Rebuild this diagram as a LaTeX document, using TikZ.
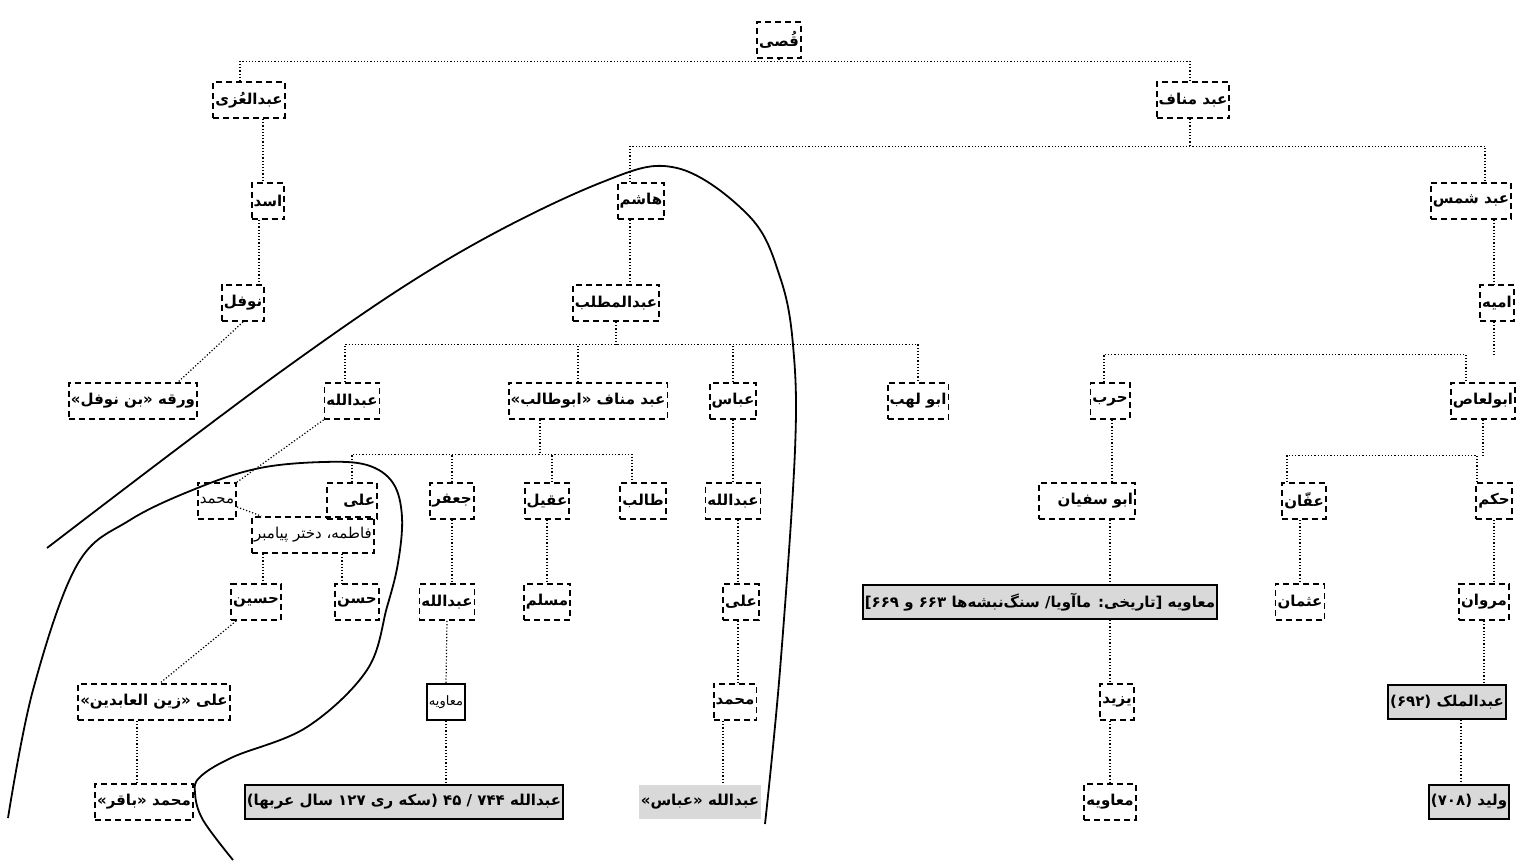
\documentclass[tikz,border=0pt]{standalone}
\usepackage{fontspec}
\usepackage{tikz}
\TeXXeTstate=1
\newfontfamily\fafont[Script=Arabic]{DejaVu Sans}
\definecolor{shade}{RGB}{217,217,217}
\newcommand{\rtl}[1]{\beginR#1\endR}
\tikzset{
  kin/.style={draw,dash pattern=on 3pt off 2pt,line width=0.9pt,font=\fafont\bfseries\fontsize{7.5}{9}\selectfont,minimum height=18pt,inner xsep=1pt,inner ysep=1pt},
  kinlight/.style={kin,font=\fafont\fontsize{7.5}{9}\selectfont},
  coin/.style={draw,solid,line width=0.9pt,fill=shade,font=\fafont\bfseries\fontsize{7.5}{9}\selectfont,minimum height=17pt,inner xsep=1pt,inner ysep=1pt},
  plainbox/.style={draw,solid,line width=0.7pt,font=\fafont\fontsize{6.5}{8}\selectfont,minimum height=18pt,inner xsep=1pt,inner ysep=1pt},
  link/.style={line width=0.6pt,dash pattern=on 0.6pt off 1pt},
  ring/.style={line width=0.9pt}
}

\begin{document}
\begin{tikzpicture}[x=0.5pt,y=-0.5pt]
\useasboundingbox (0,0) rectangle (1518,863);
% generations, top to bottom
\node[kin] (qusay) at (779,40) {\rtl{قُصی}};
\node[kin] (uzza) at (249,100) {\rtl{عبدالعُزی}};
\node[kin] (manaf) at (1193,100) {\rtl{عبد مناف}};
\node[kin] (asad) at (268,201) {\rtl{اسد}};
\node[kin] (hashim) at (641,201) {\rtl{هاشم}};
\node[kin] (shams) at (1471,201) {\rtl{عبد شمس}};
\node[kin] (nawfal) at (243,303) {\rtl{نوفل}};
\node[kin] (muttalib) at (616,303) {\rtl{عبدالمطلب}};
\node[kin] (umayya) at (1497,303) {\rtl{امیه}};
\node[kin] (waraqa) at (133,401) {\rtl{ورقه «بن نوفل»}};
\node[kin] (abdallah) at (352,401) {\rtl{عبدالله}};
\node[kin] (abutalib) at (588,401) {\rtl{عبد مناف «ابوطالب»}};
\node[kin] (abbas) at (733,401) {\rtl{عباس}};
\node[kin] (abulahab) at (918,401) {\rtl{ابو لهب}};
\node[kin] (harb) at (1110,401) {\rtl{حرب}};
\node[kin] (abulas) at (1483,401) {\rtl{ابولعاص}};
\node[kinlight] (muhammad) at (217,501) {\rtl{محمد}};
\node[kin,text width=23pt,align=right] (ali) at (352,501) {\rtl{علی}};
\node[kinlight] (fatima) at (313,535) {\rtl{فاطمه، دختر پیامبر}};
\node[kin] (jafar) at (452,501) {\rtl{جعفر}};
\node[kin] (aqil) at (547,501) {\rtl{عقیل}};
\node[kin] (talib) at (643,501) {\rtl{طالب}};
\node[kin] (abdallahb) at (733,501) {\rtl{عبدالله}};
\node[kin,text width=46pt,align=right] (abusufyan) at (1087,501) {\rtl{ابو سفیان}};
\node[kin] (affan) at (1304,501) {\rtl{عفّان}};
\node[kin] (hakam) at (1494,501) {\rtl{حکم}};
\node[kin] (husayn) at (256,602) {\rtl{حسین}};
\node[kin] (hasan) at (357,602) {\rtl{حسن}};
\node[kin] (abdallahj) at (447,602) {\rtl{عبدالله}};
\node[kin] (muslim) at (547,602) {\rtl{مسلم}};
\node[kin] (alib) at (741,602) {\rtl{علی}};
\node[coin] (muawiya) at (1040,602) {\rtl{معاویه [تاریخی: ماآویا/ سنگ‌نبشه‌ها ۶۶۳ و ۶۶۹]}};
\node[kin] (uthman) at (1300,602) {\rtl{عثمان}};
\node[kin] (marwan) at (1484,602) {\rtl{مروان}};
\node[kin] (zayn) at (154,702) {\rtl{علی «زین العابدین»}};
\node[plainbox] (muawiyaj) at (446,702) {\rtl{معاویه}};
\node[kin] (muhammadb) at (735,702) {\rtl{محمد}};
\node[kin] (yazid) at (1117,702) {\rtl{یزید}};
\node[coin] (abdalmalik) at (1447,702) {\rtl{عبدالملک (۶۹۲)}};
\node[kin] (baqir) at (144,802) {\rtl{محمد «باقر»}};
\node[coin] (abdallahr) at (404,802) {\rtl{عبدالله ۷۴۴ / ۴۵ (سکه ری ۱۲۷ سال عربها)}};
\node[coin,draw=none] (abdallahabbas) at (700,802) {\rtl{عبدالله «عباس»}};
\node[kin] (muawiyay) at (1110,802) {\rtl{معاویه}};
\node[coin] (walid) at (1469,802) {\rtl{ولید (۷۰۸)}};

% branches
\draw[link] (qusay.south) -- (qusay.south |- 0,62);
\draw[link] ([xshift=-4.5pt]uzza.north) -- ++(0,-20) -| ([xshift=-1.5pt]manaf.north);
\draw[link] ([xshift=7pt]uzza.south) -- ([xshift=7pt]uzza.south |- asad.north);
\draw[link] ([xshift=-4.5pt]asad.south) -- ([xshift=-4.5pt]asad.south |- nawfal.north);
\draw[link] (nawfal.south) -- ([xshift=22.5pt]waraqa.north);
\draw[link] ([xshift=-1.5pt]manaf.south) -- ([xshift=-1.5pt]manaf.south |- 0,147);
\draw[link] ([xshift=-5.5pt]hashim.north) -- ++(0,-36) -| ([xshift=7pt]shams.north);
\draw[link] ([xshift=-5.5pt]hashim.south) -- ([xshift=-5.5pt]hashim.south |- muttalib.north);
\draw[link] ([xshift=-1.5pt]umayya.north |- shams.south) -- ([xshift=-1.5pt]umayya.north);
\draw[link] (muttalib.south) -- (muttalib.south |- 0,345);
\draw[link] ([xshift=-3.5pt]abdallah.north) -- ++(0,-38) -| (abulahab.north);
\draw[link] ([xshift=-5pt]abutalib.north) -- ([xshift=-5pt]abutalib.north |- 0,345);
\draw[link] (abbas.north) -- (abbas.north |- 0,345);
\draw[link] ([xshift=-1.5pt]umayya.south) -- ([xshift=-1.5pt]umayya.south |- 0,355);
\draw[link] ([xshift=-3pt]harb.north) -- ++(0,-28) -| ([xshift=-8.5pt]abulas.north);
\draw[link] ([xshift=-24pt]abutalib.south) -- ([xshift=-24pt]abutalib.south |- 0,455);
\draw[link] (ali.north) -- ++(0,-28) -| ([xshift=-5.5pt]talib.north);
\draw[link] (jafar.north) -- (jafar.north |- 0,455);
\draw[link] ([xshift=2.5pt]aqil.north) -- ([xshift=2.5pt]aqil.north |- 0,455);
\draw[link] (abdallah.south west) -- (muhammad.north east);
\draw[link] ([yshift=-3pt]muhammad.east) -- ([xshift=5pt]fatima.north west);
\draw[link] ([xshift=-25pt]fatima.south) -- ([xshift=-25pt]fatima.south |- husayn.north);
\draw[link] ([xshift=14.5pt]fatima.south) -- ([xshift=14.5pt]fatima.south |- hasan.north);
\draw[link] ([xshift=3pt]husayn.south west) -- ([xshift=3pt]zayn.north);
\draw[link] ([xshift=-8.5pt]zayn.south) -- ([xshift=-8.5pt]zayn.south |- baqir.north);
\draw[link] (jafar.south) -- (jafar.south |- abdallahj.north);
\draw[link] (abdallahj.south) -- (muawiyaj.north);
\draw[link] (muawiyaj.south) -- (muawiyaj.south |- abdallahr.north);
\draw[link] (aqil.south) -- (muslim.north);
\draw[link] (abbas.south) -- (abdallahb.north);
\draw[link] ([xshift=2.5pt]abdallahb.south) -- ([xshift=2.5pt]abdallahb.south |- alib.north);
\draw[link] ([xshift=-1.5pt]alib.south) -- ([xshift=-1.5pt]alib.south |- muhammadb.north);
\draw[link] ([xshift=-6pt]muhammadb.south) -- ([xshift=-6pt]muhammadb.south |- abdallahabbas.north);
\draw[link] ([xshift=1pt]harb.south) -- ([xshift=1pt]harb.south |- abusufyan.north);
\draw[link] (abusufyan.south -| harb.south) -- (muawiya.north -| harb.south);
\draw[link] (muawiya.south -| harb.south) -- (yazid.north -| harb.south);
\draw[link] (yazid.south -| harb.south) -- (muawiyay.north -| harb.south);
\draw[link] (abulas.south) -- (abulas.south |- 0,456);
\draw[link] ([xshift=-8.5pt]affan.north) -- ++(0,-27) -| ([xshift=-8.5pt]hakam.north);
\draw[link] ([xshift=-2pt]affan.south) -- ([xshift=-2pt]affan.south |- uthman.north);
\draw[link] (hakam.south) -- (hakam.south |- marwan.north);
\draw[link] (marwan.south) -- (marwan.south |- abdalmalik.north);
\draw[link] ([xshift=7pt]abdalmalik.south) -- ([xshift=7pt]abdalmalik.south |- walid.north);

% the two hand-drawn enclosures
\draw[ring] plot[smooth,tension=0.6] coordinates {(47,548) (283,370) (450,258) (600,183) (677,168) (750,217) (780,277) (793,345) (795,450) (780,670) (765,824)};
\draw[ring] plot[smooth,tension=0.6] coordinates {(8,818) (33,690) (77,565) (130,520) (200,487) (260,468) (323,462) (367,465) (393,483) (402,517) (398,563) (387,607) (367,670) (307,727) (233,757) (200,777) (195,793) (203,820) (233,860)};
\end{tikzpicture}
\end{document}
